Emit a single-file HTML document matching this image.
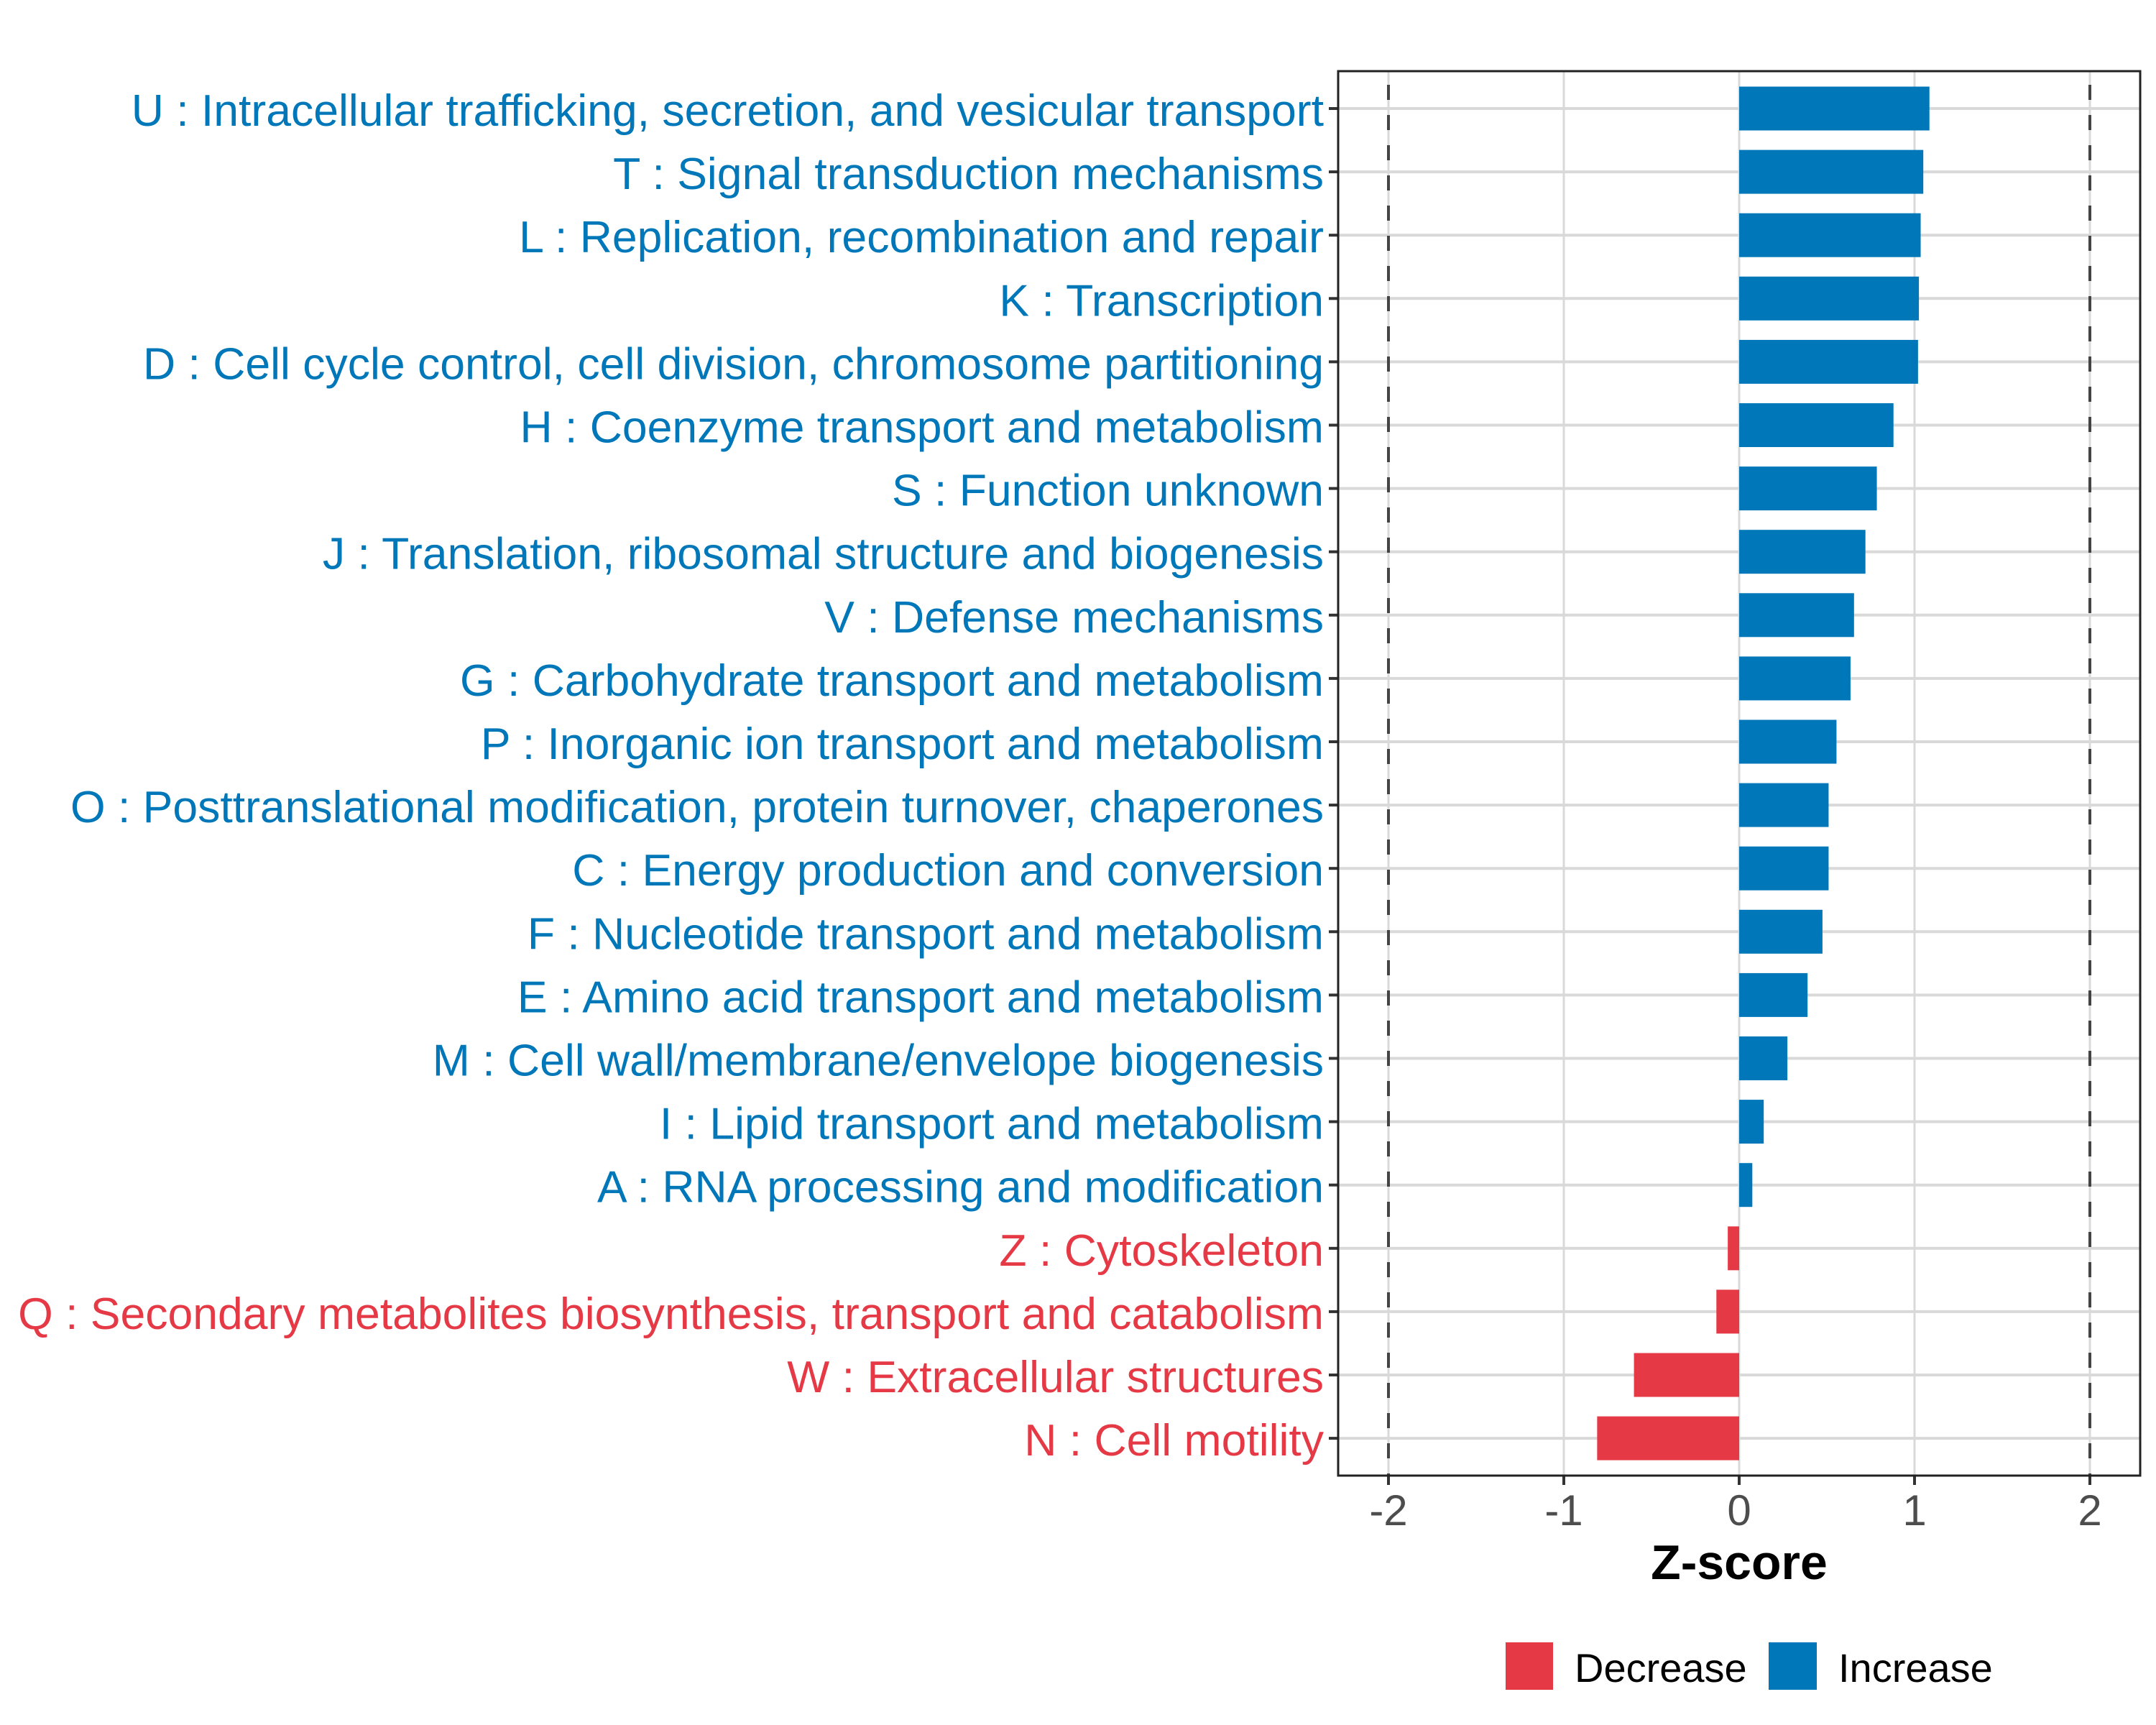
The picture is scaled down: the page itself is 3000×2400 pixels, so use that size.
<!DOCTYPE html>
<html><head><meta charset="utf-8"><style>
html,body{margin:0;padding:0;background:#fff;}
svg{display:block;font-family:"Liberation Sans",Arial,sans-serif;}
</style></head><body>
<svg id="chart" width="3000" height="2400" viewBox="0 0 3000 2400" xmlns="http://www.w3.org/2000/svg">
<rect x="0" y="0" width="3000" height="2400" fill="#fff"/>
<g id="grid"></g>
<g id="bars"></g>
<g id="labels"></g>
<g id="xaxis"></g>
<rect x="1862" y="99" width="1116" height="1954" fill="none" stroke="#222" stroke-width="3"/>
<text x="2420" y="2197" text-anchor="middle" font-size="68" font-weight="bold" fill="#000">Z-score</text>
<g>
<rect x="2095" y="2285" width="66" height="66" fill="#E63946"/>
<text x="2191" y="2340" font-size="56" fill="#000">Decrease</text>
<rect x="2461" y="2285" width="67" height="66" fill="#0077B8"/>
<text x="2558" y="2340" font-size="56" fill="#000">Increase</text>
</g>
</svg>
<script>
const categories = ["U : Intracellular trafficking, secretion, and vesicular transport","T : Signal transduction mechanisms","L : Replication, recombination and repair","K : Transcription","D : Cell cycle control, cell division, chromosome partitioning","H : Coenzyme transport and metabolism","S : Function unknown","J : Translation, ribosomal structure and biogenesis","V : Defense mechanisms","G : Carbohydrate transport and metabolism","P : Inorganic ion transport and metabolism","O : Posttranslational modification, protein turnover, chaperones","C : Energy production and conversion","F : Nucleotide transport and metabolism","E : Amino acid transport and metabolism","M : Cell wall/membrane/envelope biogenesis","I : Lipid transport and metabolism","A : RNA processing and modification","Z : Cytoskeleton","Q : Secondary metabolites biosynthesis, transport and catabolism","W : Extracellular structures","N : Cell motility"];
const zscores = [1.085,1.05,1.035,1.025,1.02,0.88,0.785,0.72,0.655,0.635,0.555,0.51,0.51,0.475,0.39,0.275,0.14,0.075,-0.065,-0.13,-0.6,-0.81];
const xTicks = [-2,-1,0,1,2];
const xTickLabels = ["-2","-1","0","1","2"];
const thresholds = [-2,2];

const NS="http://www.w3.org/2000/svg";
const X0=2420, UNIT=244, ROW0=151, ROWSTEP=88.1, BARH=61;
const BLUE="#0077B8", RED="#E63946";
function xs(v){return X0+v*UNIT;}
function ys(i){return ROW0+i*ROWSTEP;}
function mk(tag,attrs,parent){const e=document.createElementNS(NS,tag);for(const k in attrs)e.setAttribute(k,attrs[k]);parent.appendChild(e);return e;}
const grid=document.getElementById('grid'),bars=document.getElementById('bars'),labels=document.getElementById('labels'),xaxis=document.getElementById('xaxis');

xTicks.forEach((t,i)=>{
  const l=mk('line',{x1:xs(t),x2:xs(t),y1:99,y2:2053,stroke:"#D9D9D9","stroke-width":3},grid);
  
  
  const tk=mk('line',{x1:xs(t),x2:xs(t),y1:2053,y2:2066,stroke:"#333","stroke-width":4},xaxis);
  
  
  const tx=mk('text',{x:xs(t),y:2122,"text-anchor":"middle","font-size":60,fill:"#4D4D4D"},xaxis);
  tx.textContent=xTickLabels[i];
  
  
});
categories.forEach((c,i)=>{
  const l=mk('line',{x1:1862,x2:2978,y1:ys(i),y2:ys(i),stroke:"#D9D9D9","stroke-width":4},grid);
  
  
});
thresholds.forEach(t=>{
  const l=mk('line',{x1:xs(t),x2:xs(t),y1:99,y2:2053,stroke:"#444","stroke-width":4,"stroke-dasharray":"21 21","stroke-dashoffset":"-19"},grid);
  
  
});
categories.forEach((c,i)=>{
  const v=zscores[i], col=v>=0?BLUE:RED;
  const x=Math.min(xs(0),xs(v)), w=Math.abs(xs(v)-xs(0));
  const r=mk('rect',{x:x,y:ys(i)-BARH/2,width:w,height:BARH,fill:col},bars);
  
  
  const tk=mk('line',{x1:1849,x2:1862,y1:ys(i),y2:ys(i),stroke:"#333","stroke-width":4},labels);
  
  
  const tx=mk('text',{x:1842,y:ys(i)+24,"text-anchor":"end","font-size":62.5,fill:col},labels);
  tx.textContent=c;
  
  
});
</script>
</body></html>
